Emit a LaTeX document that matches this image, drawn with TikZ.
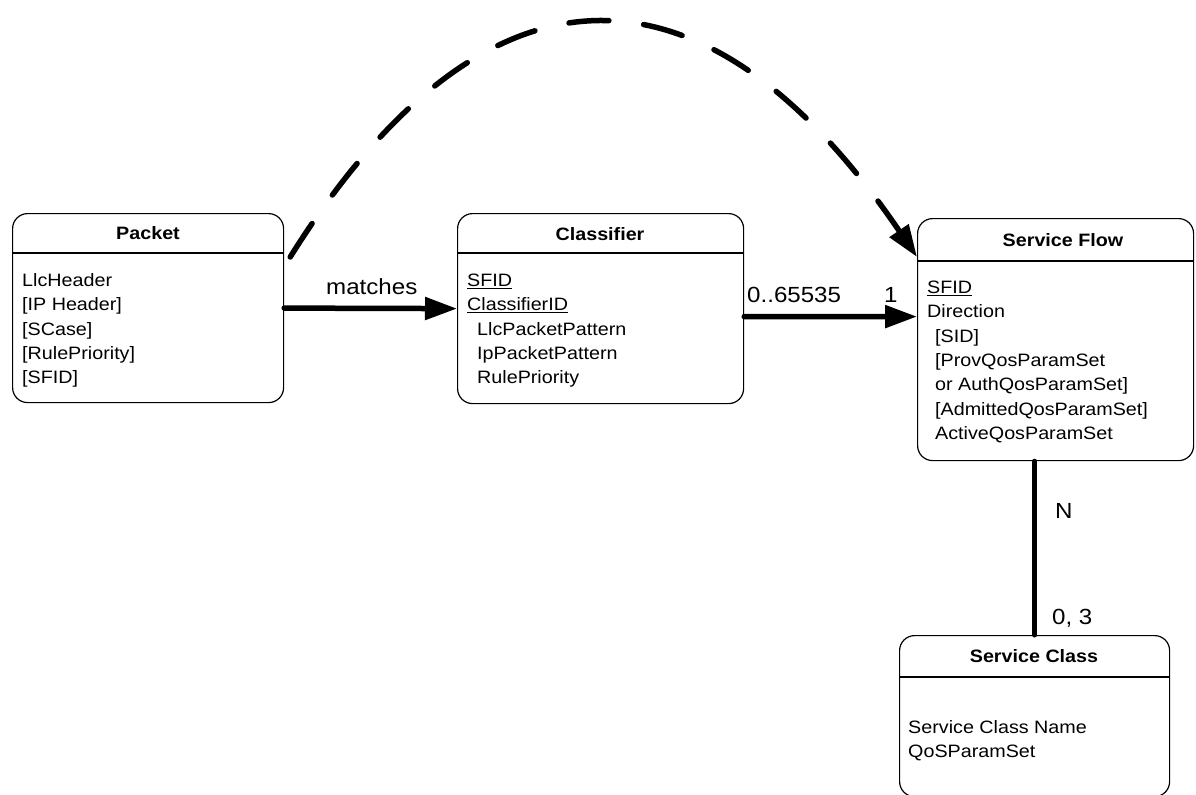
\documentclass[tikz,border=0pt]{standalone}
\usepackage{fontspec}
\setmainfont{Liberation Sans}[FakeStretch=1.1]
\usetikzlibrary{arrows.meta}
\newcommand{\ulx}[1]{\underline{#1}}
\begin{document}
\begin{tikzpicture}[x=1bp,y=-1bp,
  box/.style={draw, line width=1.2bp, rounded corners=15bp, anchor=north west, inner sep=0pt},
  sep/.style={line width=1.2bp},
  hdr/.style={font=\fontsize{18}{22}\selectfont\bfseries, anchor=base, inner sep=0pt},
  body/.style={font=\fontsize{18}{24.5}\selectfont, align=left, anchor=north west, inner sep=0pt},
  lbl/.style={font=\fontsize{22}{26}\selectfont, anchor=base west, inner sep=0pt},
  conn/.style={line width=5.5bp, line cap=round},
  tip/.style={-{Triangle[length=32bp,width=22bp]}},
  dconn/.style={line width=5.5bp, line cap=round, dash pattern=on 40bp off 35bp}
]
\useasboundingbox (0,0) rectangle (1196,795);

% boxes
\node[box, minimum width=271bp, minimum height=189bp] (packet) at (12,213) {};
\node[box, minimum width=286bp, minimum height=190bp] (classifier) at (457,213) {};
\node[box, minimum width=276bp, minimum height=242bp] (sflow) at (917,218) {};
\node[box, minimum width=270bp, minimum height=161bp] (sclass) at (899,635) {};

% header separators
\draw[sep] ([yshift=-40bp]packet.north west) -- ([yshift=-40bp]packet.north east);
\draw[sep] ([yshift=-40bp]classifier.north west) -- ([yshift=-40bp]classifier.north east);
\draw[sep] ([yshift=-43bp]sflow.north west) -- ([yshift=-43bp]sflow.north east);
\draw[sep] ([yshift=-42bp]sclass.north west) -- ([yshift=-42bp]sclass.north east);

% headers
\node[hdr] (packetT) at (148,239) {Packet};
\node[hdr] (classifierT) at (600,240) {Classifier};
\node[hdr] (sflowT) at (1063,246) {Service Flow};
\node[hdr] (sclassT) at (1034,662) {Service Class};

% bodies
\node[body] (packetB) at (22,269) {\strut LlcHeader\\{}[IP Header]\\{}[SCase]\\{}[RulePriority]\\{}[SFID]};
\node[body] (classifierB) at (467,269) {\strut\ulx{SFID}\\\ulx{ClassifierID}\\\hspace*{10bp}LlcPacketPattern\\\hspace*{10bp}IpPacketPattern\\\hspace*{10bp}RulePriority};
\node[body] (sflowB) at (927,276) {\strut\ulx{SFID}\\Direction\\\hspace*{8bp}[SID]\\\hspace*{8bp}[ProvQosParamSet\\\hspace*{8bp}or AuthQosParamSet]\\\hspace*{8bp}[AdmittedQosParamSet]\\\hspace*{8bp}ActiveQosParamSet};
\node[body] (sclassB) at (908,716) {\strut Service Class Name\\QoSParamSet};

% connectors
\draw[conn, tip] (packet.east) -- (classifier.west);
\draw[conn, tip] ([yshift=-8bp]classifier.east) -- ([yshift=23bp]sflow.west);
\draw[line width=5bp, line cap=round] (sclass.north) -- (sclass.north |- sflow.south);
\draw[dconn, tip] ([xshift=6bp,yshift=-44bp]packet.north east)
   .. controls (485,-54) and (705,-54) .. ([yshift=-39bp]sflow.north west);

% labels
\node[lbl] (lmatch) at (326,294) {matches};
\node[lbl] (lzero) at (747,302) {0..65535};
\node[lbl] (lone) at (884,302) {1};
\node[lbl] (lN) at (1055,518) {N};
\node[lbl] (lzt) at (1052,624) {0, 3};
\end{tikzpicture}
\end{document}
